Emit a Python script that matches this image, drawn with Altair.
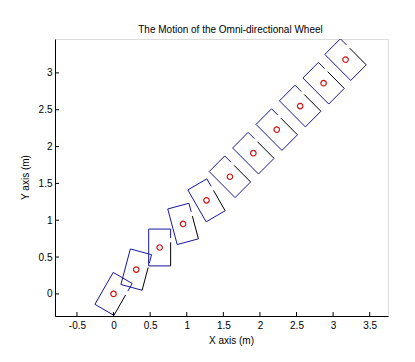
import altair as alt
import pandas as pd
import numpy as np

# ---- data ----
centers_x = [0.00, 0.31, 0.63, 0.95, 1.27, 1.59, 1.91, 2.23, 2.55, 2.87, 3.17]
centers_y = [0.00, 0.33, 0.63, 0.95, 1.27, 1.59, 1.91, 2.23, 2.55, 2.86, 3.18]
angles_deg = [-30, -15, 0, 15, 30, 45, 45, 45, 45, 45, 45]
x_ticks = [-0.5, 0, 0.5, 1, 1.5, 2, 2.5, 3, 3.5]
y_ticks = [0, 0.5, 1, 1.5, 2, 2.5, 3]

# body size (m) and wheel stripe extent along the right side (body frame)
W, H = 0.3, 0.5
GAP_TOP, WHEEL_TOP = 0.13, 0.07

body_local = [(W / 2, GAP_TOP), (W / 2, H / 2), (-W / 2, H / 2), (-W / 2, -H / 2), (W / 2, -H / 2)]
wheel_local = [(W / 2, -H / 2), (W / 2, WHEEL_TOP)]


def place(local, cx, cy, deg):
    t = np.deg2rad(deg)
    c, s = np.cos(t), np.sin(t)
    return [(cx + px * c - py * s, cy + px * s + py * c) for px, py in local]


body_rows, wheel_rows = [], []
for i, (cx, cy, a) in enumerate(zip(centers_x, centers_y, angles_deg)):
    for k, (x, y) in enumerate(place(body_local, cx, cy, a)):
        body_rows.append({"shape": i, "ord": k, "x": x, "y": y})
    for k, (x, y) in enumerate(place(wheel_local, cx, cy, a)):
        wheel_rows.append({"shape": i, "ord": k, "x": x, "y": y})

body_df = pd.DataFrame(body_rows)
wheel_df = pd.DataFrame(wheel_rows)
centers_df = pd.DataFrame({"x": centers_x, "y": centers_y})
xt_df = pd.DataFrame({"v": x_ticks})
yt_df = pd.DataFrame({"v": y_ticks})

FONT = "Liberation Sans"
PW, PH = 333, 277

xscale = alt.Scale(domain=[-0.8, 3.75], nice=False, zero=False)
yscale = alt.Scale(domain=[-0.3, 3.46], nice=False, zero=False)

lab = "datum.value < 0 ? '-' + format(-datum.value, '~g') : format(datum.value, '~g')"

x_axis = alt.Axis(
    values=x_ticks, ticks=False, grid=False, labelExpr=lab,
    labelFont=FONT, labelFontSize=10, labelColor="#000", labelPadding=4,
    domainColor="#000", domainWidth=1,
    title="X axis (m)", titleFont=FONT, titleFontSize=10, titleFontWeight="normal",
    titleColor="#000", titleX=176, titleY=27, titleBaseline="alphabetic", titleAlign="center",
)
y_axis = alt.Axis(
    values=y_ticks, ticks=False, grid=False, labelExpr=lab,
    labelFont=FONT, labelFontSize=10, labelColor="#000", labelPadding=3,
    domainColor="#000", domainWidth=1,
    title="Y axis (m)", titleFont=FONT, titleFontSize=10, titleFontWeight="normal",
    titleColor="#000", titleX=-27, titleY=138, titleBaseline="alphabetic", titleAlign="center",
    titleAngle=270,
)

X = lambda f: alt.X(f, type="quantitative", scale=xscale, axis=x_axis)
Y = lambda f: alt.Y(f, type="quantitative", scale=yscale, axis=y_axis)

body = alt.Chart(body_df).mark_line(color="#16169e", strokeWidth=1, clip=True).encode(
    x=X("x"), y=Y("y"), detail="shape:N", order="ord:Q"
)
wheel = alt.Chart(wheel_df).mark_line(color="#000000", strokeWidth=1, clip=True).encode(
    x=X("x"), y=Y("y"), detail="shape:N", order="ord:Q"
)
circles = alt.Chart(centers_df).mark_point(
    shape="circle", filled=False, color="#cc1414", size=30, strokeWidth=1.2, opacity=1
).encode(x=X("x"), y=Y("y"))

xticks = alt.Chart(xt_df).mark_rule(color="#000", strokeWidth=1).encode(
    x=X("v"), y=alt.value(PH), y2=alt.value(PH - 4)
)
yticks = alt.Chart(yt_df).mark_rule(color="#000", strokeWidth=1).encode(
    y=Y("v"), x=alt.value(0), x2=alt.value(4)
)

chart = alt.layer(body, wheel, circles, xticks, yticks).properties(
    width=PW, height=PH,
    title=alt.TitleParams(
        text="The Motion of the Omni-directional Wheel", font=FONT, fontSize=10,
        fontWeight="normal", color="#000", anchor="middle", dx=9, offset=-4,
        baseline="alphabetic",
    ),
    padding={"left": 47, "top": 31, "right": 15, "bottom": 34},
    autosize=alt.AutoSizeParams(type="none"),
).configure_view(stroke=None).configure(background="white")

chart.save("out.html", embed_options={"renderer": "svg", "actions": False})
